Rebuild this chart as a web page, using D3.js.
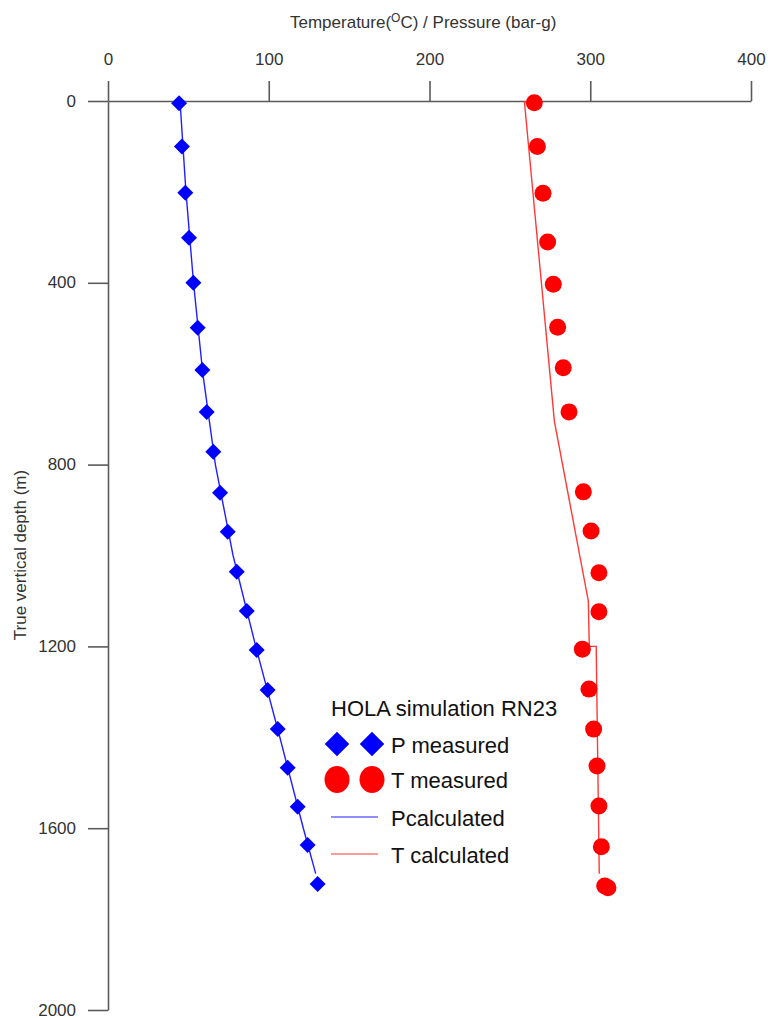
<!DOCTYPE html>
<html>
<head>
<meta charset="utf-8">
<script src="https://cdn.jsdelivr.net/npm/d3@7"></script>
<style>
  html, body { margin: 0; padding: 0; background: #fff; }
  svg { display: block; font-family: "Liberation Sans", Arial, sans-serif; }
</style>
</head>
<body>
<svg id="chart" width="768" height="1018"></svg>
<script>
// Measured pressure (bar-g) against true vertical depth (m)
const depthPMeasured = [5, 100, 202, 301, 400, 499, 592, 684, 772, 862, 948, 1036, 1122, 1208, 1296, 1382, 1467, 1553, 1637, 1723];
const presMeasured   = [44.2, 46.0, 48.1, 50.4, 53.1, 55.8, 58.7, 61.4, 65.5, 69.7, 74.5, 80.1, 86.3, 92.5, 99.3, 105.6, 111.8, 118.0, 124.2, 130.4];

// Measured temperature (°C) against true vertical depth (m)
const depthTMeasured = [4, 100, 203, 310, 403, 498, 587, 684, 860, 946, 1038, 1124, 1206, 1294, 1382, 1463, 1551, 1641, 1727, 1731];
const tempMeasured   = [265.2, 267.1, 270.6, 273.5, 277.0, 279.7, 283.2, 286.8, 295.7, 300.5, 305.4, 305.4, 295.1, 299.2, 302.1, 304.2, 305.4, 306.9, 309.0, 311.0];

// HOLA simulated profiles
const depthPCalc = [0, 200, 400, 600, 800, 1000, 1200, 1400, 1600, 1700];
const presCalc   = [44.8, 48.5, 53.2, 59.0, 66.8, 77.8, 91.9, 106.9, 121.5, 129.2];
const depthTCalc = [0, 705, 1100, 1200, 1200, 1700];
const tempCalc   = [259.0, 277.7, 298.8, 299.4, 303.7, 305.6];

// Axis ticks
const xTicks = [0, 100, 200, 300, 400];
const yTicks = [0, 400, 800, 1200, 1600, 2000];

const svg = d3.select("#chart");
const x = d3.scaleLinear().domain([0, 400]).range([108, 751]);
const y = d3.scaleLinear().domain([0, 2000]).range([101, 1010]);

const axisColor = "#5a5a5a";

// Top (value) axis
const gx = svg.append("g")
  .attr("transform", `translate(0,${y(0)})`)
  .call(d3.axisTop(x).tickValues(xTicks).tickFormat(d3.format("d"))
    .tickSize(20).tickSizeOuter(0).tickPadding(16));

// Left (depth) axis
const gy = svg.append("g")
  .attr("transform", `translate(${x(0)},0)`)
  .call(d3.axisLeft(y).tickValues(yTicks).tickFormat(d3.format("d"))
    .tickSize(20).tickSizeOuter(0).tickPadding(12));

[gx, gy].forEach(g => {
  g.select(".domain").attr("stroke", axisColor).attr("stroke-width", 1.6);
  g.selectAll(".tick line").attr("stroke", axisColor).attr("stroke-width", 1.6);
  g.selectAll(".tick text").attr("fill", "#333").attr("font-size", 17)
    .attr("font-family", "'Liberation Sans', Arial, sans-serif");
});
gy.selectAll(".tick text").attr("dy", "0.3em");

// Axis titles
const xt = svg.append("text")
  .attr("x", 290).attr("y", 28)
  .attr("font-size", 17).attr("fill", "#333");
xt.append("tspan").text("Temperature(");
xt.append("tspan").attr("font-size", 12).attr("dy", -6).text("O");
xt.append("tspan").attr("dy", 6).text("C) / Pressure (bar-g)");

svg.append("text")
  .attr("transform", `translate(26,555) rotate(-90)`)
  .attr("text-anchor", "middle")
  .attr("font-size", 17).attr("fill", "#333")
  .text("True vertical depth (m)");

// Calculated profiles
const line = d3.line().x(d => x(d[0])).y(d => y(d[1]));
svg.append("path")
  .datum(presCalc.map((v, i) => [v, depthPCalc[i]]))
  .attr("d", line).attr("fill", "none")
  .attr("stroke", "#2020ff").attr("stroke-width", 1.4);
svg.append("path")
  .datum(tempCalc.map((v, i) => [v, depthTCalc[i]]))
  .attr("d", line).attr("fill", "none")
  .attr("stroke", "#ff3838").attr("stroke-width", 1.4);

// Measured points
const diamond = d3.symbol().type(d3.symbolSquare).size(128);
svg.append("g").selectAll("path")
  .data(presMeasured.map((v, i) => [v, depthPMeasured[i]]))
  .join("path")
  .attr("d", diamond)
  .attr("transform", d => `translate(${x(d[0])},${y(d[1])}) rotate(45)`)
  .attr("fill", "#0000ff");

svg.append("g").selectAll("circle")
  .data(tempMeasured.map((v, i) => [v, depthTMeasured[i]]))
  .join("circle")
  .attr("cx", d => x(d[0])).attr("cy", d => y(d[1]))
  .attr("r", 8.5).attr("fill", "#ff0000");

// Legend
const lg = svg.append("g");
lg.append("text").attr("x", 331).attr("y", 716)
  .attr("font-size", 22).attr("fill", "#111").text("HOLA simulation RN23");

const bigDiamond = d3.symbol().type(d3.symbolSquare).size(300);
[337, 372].forEach(cx => {
  lg.append("path").attr("d", bigDiamond)
    .attr("transform", `translate(${cx},744) rotate(45)`).attr("fill", "#0000ff");
  lg.append("ellipse").attr("cx", cx).attr("cy", 779.5)
    .attr("rx", 12.5).attr("ry", 13.5).attr("fill", "#ff0000");
});
lg.append("line").attr("x1", 331).attr("x2", 378).attr("y1", 817).attr("y2", 817)
  .attr("stroke", "#2020ff").attr("stroke-width", 1.2);
lg.append("line").attr("x1", 331).attr("x2", 378).attr("y1", 854).attr("y2", 854)
  .attr("stroke", "#ff3838").attr("stroke-width", 1.2);

const items = [["P measured", 753], ["T measured", 788], ["Pcalculated", 825.5], ["T calculated", 862.5]];
items.forEach(([t, yy]) => {
  lg.append("text").attr("x", 391).attr("y", yy)
    .attr("font-size", 22).attr("fill", "#111").text(t);
});
</script>
</body>
</html>
